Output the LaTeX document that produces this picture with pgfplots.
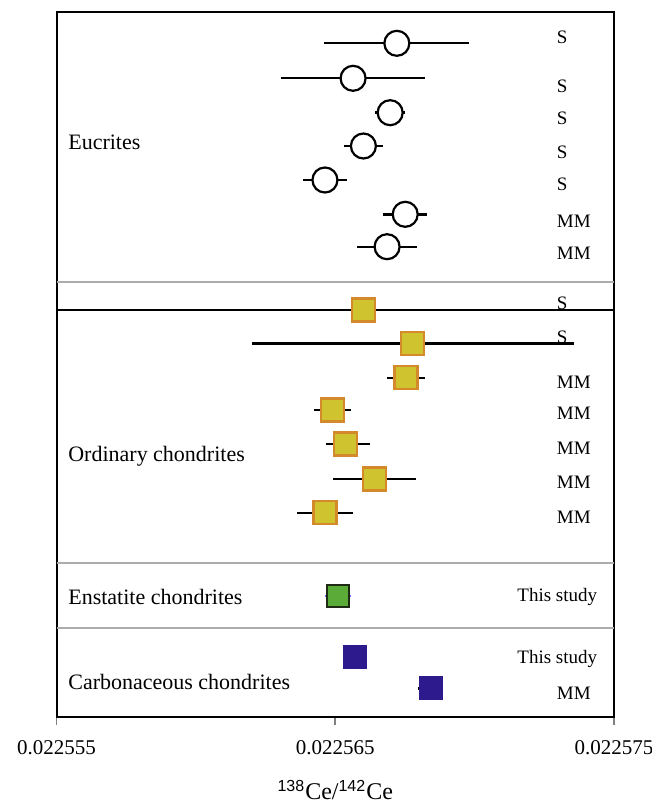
\documentclass[border=0pt]{standalone}
\usepackage{fontspec}
\setmainfont{Liberation Serif}
\setsansfont{Liberation Sans}
\usepackage{pgfplots}
\pgfplotsset{compat=1.18}

\definecolor{ocfill}{HTML}{CFC330}
\definecolor{ocedge}{HTML}{D4892B}
\definecolor{ecfill}{HTML}{5AAB38}
\definecolor{ecedge}{HTML}{1E2A14}
\definecolor{ccfill}{HTML}{2D1B8E}

% x is (138Ce/142Ce - 0.022555) * 1e6, y is the row position (bottom = 0)
\newcommand\grp{\fontsize{11}{13}\selectfont}
\newcommand\src{\fontsize{9.5}{11}\selectfont}
\tikzset{src/.style={anchor=west, inner sep=0pt, font=\src},
         grp/.style={anchor=west, inner sep=0pt, font=\grp}}

\begin{document}
\begin{tikzpicture}
\begin{axis}[
  scale only axis,
  width=278.75pt, height=352.5pt,
  xmin=0, xmax=20, ymin=0, ymax=705,
  axis line style={black, line width=1pt},
  xtick={0,10,20},
  xticklabels={0.022555,0.022565,0.022575},
  ytick=\empty,
  xtick pos=bottom, tick align=outside,
  major tick length=4pt,
  every tick/.style={gray, line width=0.8pt},
  xticklabel style={font=\fontsize{10.5}{12}\selectfont, yshift=-4pt},
  xlabel={\textsuperscript{\sffamily 138}Ce/\textsuperscript{\sffamily 142}Ce},
  xlabel style={font=\fontsize{12}{14}\selectfont, yshift=-6pt},
  error bars/error bar style={black, line width=1.2pt},
  error bars/error mark=none,
]
\coordinate (sw) at (rel axis cs:0,0);
\coordinate (ne) at (rel axis cs:1,1);

% separators
\draw[gray!65, line width=0.8pt] (axis cs:0,435) -- (axis cs:20,435);
\draw[gray!65, line width=0.8pt] (axis cs:0,154) -- (axis cs:20,154);
\draw[gray!65, line width=0.8pt] (axis cs:0,89) -- (axis cs:20,89);

% Eucrites
\addplot[only marks, mark=*, mark size=6.25pt,
  mark options={draw=black, fill=white, line width=1.1pt},
  error bars/.cd, x dir=both, x explicit] coordinates {
  (12.21,673.7) +- (2.60,0)
  (10.64,638.7) +- (2.58,0)
  (11.97,604.3) +- (0.54,0)
  (11.01,571.0) +- (0.69,0)
  (9.63,537.0)  +- (0.78,0)
  (12.51,502.7) +- (0.79,0)
  (11.86,470.3) +- (1.08,0)
};

% Ordinary chondrites
\addplot[only marks, mark=square*, mark size=5.75pt,
  mark options={draw=ocedge, fill=ocfill, line width=1.1pt},
  error bars/.cd, x dir=both, x explicit] coordinates {
  (11.01,407.0) +- (30,0)
  (12.78,373.7) +- (5.77,0)
  (12.54,339.3) +- (0.69,0)
  (9.90,307.0)  +- (0.68,0)
  (10.36,273.0) -= (0.70,0) += (0.90,0)
  (11.42,238.0) +- (1.49,0)
  (9.63,204.3)  +- (0.99,0)
};

% Enstatite chondrites
\addplot[only marks, mark=square*, mark size=5.5pt,
  mark options={draw=ecedge, fill=ecfill, line width=1.1pt},
  error bars/.cd, x dir=both, x explicit,
  error bar style={blue!60, line width=0.8pt}] coordinates {
  (10.10,121.0) +- (0.45,0)
};

% Carbonaceous chondrites
\addplot[only marks, mark=square*, mark size=5.75pt,
  mark options={draw=ccfill, fill=ccfill, line width=0.6pt},
  error bars/.cd, x dir=both, x explicit] coordinates {
  (10.72,60.3) +- (0.20,0)
  (13.43,28.7) +- (0.45,0)
};

% group labels
\node[grp] at (axis cs:0.41,575) {Eucrites};
\node[grp] at (axis cs:0.41,261) {Ordinary chondrites};
\node[grp] at (axis cs:0.41,120) {Enstatite chondrites};
\node[grp] at (axis cs:0.41,35) {Carbonaceous chondrites};

% data sources
\node[src] at (axis cs:17.94,679.3) {S};
\node[src] at (axis cs:17.94,631) {S};
\node[src] at (axis cs:17.94,599) {S};
\node[src] at (axis cs:17.94,565) {S};
\node[src] at (axis cs:17.94,533) {S};
\node[src] at (axis cs:17.94,496) {MM};
\node[src] at (axis cs:17.94,464) {MM};
\node[src] at (axis cs:17.94,414) {S};
\node[src] at (axis cs:17.94,380) {S};
\node[src] at (axis cs:17.94,335) {MM};
\node[src] at (axis cs:17.94,304) {MM};
\node[src] at (axis cs:17.94,269) {MM};
\node[src] at (axis cs:17.94,235) {MM};
\node[src] at (axis cs:17.94,200) {MM};
\node[src] at (axis cs:17.94,24) {MM};
\node[anchor=east, inner sep=0pt, font=\src] at (axis cs:19.41,120) {This study};
\node[anchor=east, inner sep=0pt, font=\src] at (axis cs:19.41,58) {This study};
\end{axis}
\pgfresetboundingbox
\path ([xshift=-28.25pt, yshift=-44pt]sw) rectangle ([xshift=19pt, yshift=6pt]ne);
\end{tikzpicture}
\end{document}
